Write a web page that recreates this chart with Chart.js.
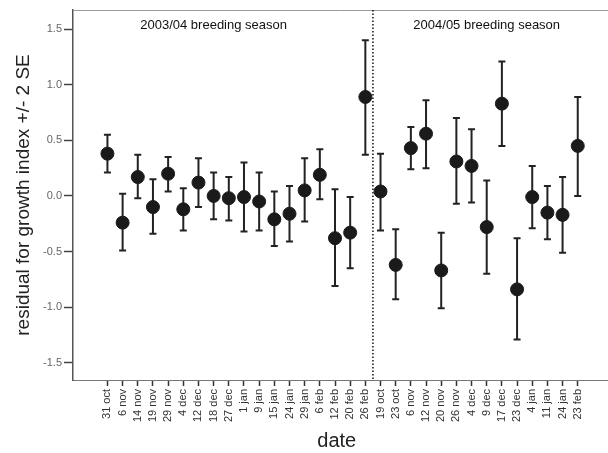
<!DOCTYPE html>
<html lang="en">
<head>
    <meta charset="UTF-8">
    <title>Growth index residuals</title>
    <style>
        body {
            margin: 0;
            background-color: #fff;
        }

        .chart-container {
            position: relative;
            width: 608px;
            height: 453px;
        }
    </style>
    <script src="https://cdn.jsdelivr.net/npm/chart.js"></script>
</head>
<body>
<div class="chart-container">
    <canvas id="residualChart"></canvas>
</div>
<script>
    const dateLabels = ['31 oct', '6 nov', '14 nov', '19 nov', '29 nov', '4 dec', '12 dec', '18 dec', '27 dec',
        '1 jan', '9 jan', '15 jan', '24 jan', '29 jan', '6 feb', '12 feb', '20 feb', '26 feb',
        '19 oct', '23 oct', '6 nov', '12 nov', '20 nov', '26 nov', '4 dec', '9 dec', '17 dec',
        '23 dec', '4 jan', '11 jan', '24 jan', '23 feb'];

    const residuals = [0.38, -0.24, 0.17, -0.10, 0.20, -0.12, 0.12, 0.00, -0.02,
        -0.01, -0.05, -0.21, -0.16, 0.05, 0.19, -0.38, -0.33, 0.89,
        0.04, -0.62, 0.43, 0.56, -0.67, 0.31, 0.27, -0.28, 0.83,
        -0.84, -0.01, -0.15, -0.17, 0.45];

    const upperBound = [0.55, 0.02, 0.37, 0.15, 0.35, 0.07, 0.34, 0.21, 0.17,
        0.30, 0.21, 0.04, 0.09, 0.34, 0.42, 0.06, -0.01, 1.40,
        0.38, -0.30, 0.62, 0.86, -0.33, 0.70, 0.60, 0.14, 1.21,
        -0.38, 0.27, 0.09, 0.17, 0.89];

    const lowerBound = [0.21, -0.49, -0.02, -0.34, 0.04, -0.31, -0.10, -0.21, -0.22,
        -0.32, -0.31, -0.45, -0.41, -0.23, -0.03, -0.81, -0.65, 0.37,
        -0.31, -0.93, 0.24, 0.25, -1.01, -0.07, -0.06, -0.70, 0.45,
        -1.29, -0.29, -0.39, -0.51, 0.00];

    const yTicks = [-1.5, -1.0, -0.5, 0.0, 0.5, 1.0, 1.5];

    const seasonLabels = ['2003/04 breeding season', '2004/05 breeding season'];
    const seasonCentres = [7, 25];
    const seasonBreak = 17.5;

    const fontFamily = '"Liberation Sans", Arial, sans-serif';

    const extrasPlugin = {
        id: 'extras',
        beforeDatasetsDraw(chart) {
            const ctx = chart.ctx;
            const x = chart.scales.x;
            const y = chart.scales.y;
            const area = chart.chartArea;

            ctx.save();
            // top and bottom frame lines run off the right edge like the original
            ctx.lineWidth = 1;
            ctx.strokeStyle = '#9a9a9a';
            ctx.beginPath();
            ctx.moveTo(area.left, area.top + 0.5);
            ctx.lineTo(chart.width, area.top + 0.5);
            ctx.stroke();
            ctx.strokeStyle = '#777';
            ctx.beginPath();
            ctx.moveTo(area.right - 1, area.bottom + 0.5);
            ctx.lineTo(chart.width, area.bottom + 0.5);
            ctx.stroke();

            // dotted separator between seasons
            const sx = x.getPixelForValue(seasonBreak);
            ctx.strokeStyle = '#111';
            ctx.lineWidth = 1.5;
            ctx.setLineDash([1.5, 2]);
            ctx.beginPath();
            ctx.moveTo(sx, area.top);
            ctx.lineTo(sx, area.bottom);
            ctx.stroke();
            ctx.setLineDash([]);

            // error bars
            ctx.strokeStyle = '#222';
            ctx.lineWidth = 2;
            residuals.forEach((v, i) => {
                const px = x.getPixelForValue(i);
                const top = y.getPixelForValue(upperBound[i]);
                const bottom = y.getPixelForValue(lowerBound[i]);
                ctx.beginPath();
                ctx.moveTo(px, top);
                ctx.lineTo(px, bottom);
                ctx.moveTo(px - 3.5, top);
                ctx.lineTo(px + 3.5, top);
                ctx.moveTo(px - 3.5, bottom);
                ctx.lineTo(px + 3.5, bottom);
                ctx.stroke();
            });

            // season labels
            ctx.fillStyle = '#111';
            ctx.font = '13px ' + fontFamily;
            ctx.textAlign = 'center';
            ctx.textBaseline = 'middle';
            seasonLabels.forEach((label, i) => {
                ctx.fillText(label, x.getPixelForValue(seasonCentres[i]), area.top + 15);
            });
            ctx.restore();
        }
    };

    const ctxResidual = document.getElementById('residualChart').getContext('2d');
    const residualChart = new Chart(ctxResidual, {
        type: 'scatter',
        data: {
            datasets: [{
                data: residuals.map((v, i) => ({x: i, y: v})),
                backgroundColor: '#1a1a1a',
                borderColor: '#1a1a1a',
                pointRadius: 6.5,
                pointHoverRadius: 6.5
            }]
        },
        options: {
            responsive: true,
            maintainAspectRatio: false,
            animation: false,
            layout: {
                padding: {top: 10, right: 0, left: 0, bottom: 0}
            },
            plugins: {
                legend: {display: false},
                tooltip: {enabled: false}
            },
            scales: {
                x: {
                    type: 'linear',
                    min: -2.27,
                    max: 32.5,
                    afterBuildTicks(scale) {
                        scale.ticks = dateLabels.map((_, i) => ({value: i}));
                    },
                    afterFit(scale) {
                        scale.height = 73;
                    },
                    grid: {
                        drawOnChartArea: false,
                        color: '#333',
                        tickLength: 6,
                        tickWidth: 1.5
                    },
                    border: {color: '#777', width: 1},
                    ticks: {
                        autoSkip: false,
                        minRotation: 90,
                        maxRotation: 90,
                        padding: 3,
                        color: '#333',
                        font: {family: fontFamily, size: 11},
                        callback: (v) => dateLabels[v]
                    },
                    title: {
                        display: true,
                        text: 'date',
                        color: '#222',
                        font: {family: fontFamily, size: 20},
                        padding: {top: 0, bottom: 0}
                    }
                },
                y: {
                    min: -1.655,
                    max: 1.672,
                    afterBuildTicks(scale) {
                        scale.ticks = yTicks.map(v => ({value: v}));
                    },
                    afterFit(scale) {
                        scale.width = 73;
                    },
                    grid: {
                        drawOnChartArea: false,
                        color: '#444',
                        tickLength: 9,
                        tickWidth: 1.5
                    },
                    border: {color: '#555', width: 1.5},
                    ticks: {
                        padding: 2,
                        color: '#666',
                        font: {family: fontFamily, size: 11},
                        callback: (v) => v.toFixed(1)
                    },
                    title: {
                        display: true,
                        text: 'residual for growth index +/- 2 SE',
                        color: '#222',
                        font: {family: fontFamily, size: 19},
                        padding: {top: 12, bottom: 0}
                    }
                }
            }
        },
        plugins: [extrasPlugin]
    });
</script>
</body>
</html>
